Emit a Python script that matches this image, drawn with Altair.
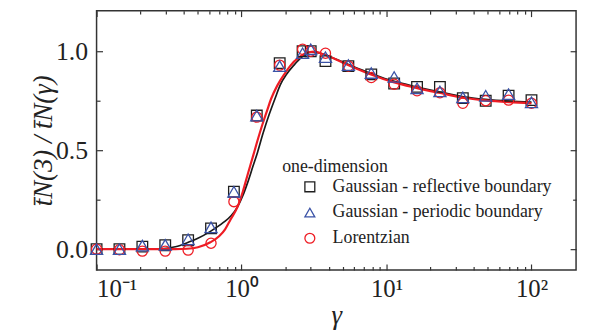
import altair as alt
import pandas as pd

# ---- data ----
gamma_pts = [0.1, 0.1438, 0.2069, 0.2976, 0.4281, 0.6158, 0.8859, 1.274, 1.833, 2.637, 3.0,
             3.793, 5.456, 7.848, 11.29, 16.24, 23.36, 33.60, 48.33, 69.52, 100.0]
reflective = [0.0, 0.0, 0.013, 0.02, 0.045, 0.105, 0.29, 0.675, 0.94, 1.0, 1.0,
              0.95, 0.925, 0.883, 0.837, 0.82, 0.82, 0.763, 0.75, 0.775, 0.753]
periodic = [0.0, 0.0, 0.018, 0.022, 0.05, 0.11, 0.29, 0.675, 0.925, 0.99, 1.01,
            0.97, 0.93, 0.89, 0.87, 0.813, 0.797, 0.767, 0.775, 0.783, 0.742]
lorentzian = [0.0, -0.003, -0.01, -0.01, -0.005, 0.03, 0.24, 0.667, 0.93, 1.01, 1.0,
              0.99, 0.925, 0.867, 0.833, 0.8, 0.79, 0.737, 0.75, 0.753, 0.737]

gamma_black = [0.1, 0.2, 0.28, 0.35, 0.43, 0.5, 0.61, 0.75, 0.85, 0.94, 1.02, 1.1, 1.2, 1.29,
               1.4, 1.55, 1.7, 1.85, 2.05, 2.3, 2.6, 3.0, 3.5, 4.0, 5.0, 6.0, 8.0, 11, 16, 23,
               34, 48, 70, 100]
fit_black = [0.0, 0.0, 0.002, 0.012, 0.035, 0.055, 0.09, 0.135, 0.17, 0.215, 0.27, 0.335, 0.42,
             0.49, 0.58, 0.68, 0.76, 0.83, 0.885, 0.93, 0.97, 0.995, 0.99, 0.975, 0.945, 0.92,
             0.885, 0.85, 0.82, 0.795, 0.77, 0.757, 0.748, 0.743]

gamma_red = [0.1, 0.35, 0.42, 0.5, 0.61, 0.7, 0.77, 0.84, 0.94, 1.02, 1.1, 1.2, 1.29, 1.4, 1.5,
             1.6, 1.76, 2.0, 2.16, 2.5, 2.9, 3.2, 3.5, 4.0, 5.0, 6.0, 8.0, 11, 16, 23, 34, 48,
             70, 100]
fit_red = [0.0, 0.0, 0.002, 0.01, 0.035, 0.065, 0.1, 0.15, 0.215, 0.29, 0.375, 0.47, 0.55,
           0.635, 0.7, 0.76, 0.825, 0.89, 0.925, 0.97, 0.995, 0.998, 0.99, 0.975, 0.942,
           0.917, 0.88, 0.845, 0.815, 0.79, 0.765, 0.752, 0.743, 0.737]

series_names = ["Gaussian - reflective boundary", "Gaussian - periodic boundary", "Lorentzian"]
series_colors = ["#1e1e1e", "#3a52a6", "#ee1c24"]
series_shapes = ["square", "triangle-up", "circle"]
series_sizes = [115, 150, 105]

x_major = [0.1, 1, 10, 100]
x_minor = [0.2, 0.3, 0.4, 0.5, 0.6, 0.7, 0.8, 0.9, 2, 3, 4, 5, 6, 7, 8, 9,
           20, 30, 40, 50, 60, 70, 80, 90]
y_major = [0.0, 0.5, 1.0]
y_minor = [0.25, 0.75]

# ---- styling ----
W, H = 484.5, 262
X_DOMAIN = [0.1, 203]
Y_DOMAIN = [-0.105, 1.205]
FONT = "Times New Roman, Liberation Serif, serif"
INK = "#222222"

series_dfs = [pd.DataFrame({"gamma": gamma_pts, "value": vals, "series": name})
              for vals, name in zip([reflective, periodic, lorentzian], series_names)]
black_df = pd.DataFrame({"gamma": gamma_black, "value": fit_black})
red_df = pd.DataFrame({"gamma": gamma_red, "value": fit_red})

xs = alt.Scale(type="log", domain=X_DOMAIN, nice=False)
ys = alt.Scale(domain=Y_DOMAIN, nice=False, zero=False)

common = dict(grid=False, domain=False, tickColor="#333333", tickWidth=1.2)

x_label_expr = ("datum.value < 0.5 ? '10⁻¹' : datum.value < 5 ? '10⁰' : "
                "datum.value < 50 ? '10¹' : '10²'")

ax_x_main = alt.Axis(orient="bottom", offset=-6, tickSize=6, values=x_major,
                     labelExpr=x_label_expr, labelFont=FONT, labelFontSize=25,
                     labelColor=INK, labelPadding=7, title="γ", titleFont=FONT,
                     titleFontSize=27, titleFontStyle="italic", titleFontWeight="normal",
                     titleColor=INK, titlePadding=1, **common)
ax_x_minor = alt.Axis(orient="bottom", offset=-3.5, tickSize=3.5, values=x_minor,
                      labels=False, title=None, **common)
ax_x_top = alt.Axis(orient="top", offset=-6, tickSize=6, values=x_major,
                    labels=False, title=None, **common)
ax_x_top_minor = alt.Axis(orient="top", offset=-3.5, tickSize=3.5, values=x_minor,
                          labels=False, title=None, **common)

ax_y_main = alt.Axis(orient="left", offset=-6, tickSize=6, values=y_major,
                     labelExpr="format(datum.value, '.1f')", labelFont=FONT,
                     labelFontSize=26, labelColor=INK, labelPadding=9,
                     title="t̄N(3) / t̄N(γ)", titleFont=FONT, titleFontSize=27,
                     titleFontStyle="italic", titleFontWeight="normal", titleColor=INK,
                     titlePadding=-2, **common)
ax_y_minor = alt.Axis(orient="left", offset=-3.5, tickSize=3.5, values=y_minor,
                      labels=False, title=None, **common)
ax_y_right = alt.Axis(orient="right", offset=-6, tickSize=6, values=y_major,
                      labels=False, title=None, **common)
ax_y_right_minor = alt.Axis(orient="right", offset=-3.5, tickSize=3.5, values=y_minor,
                            labels=False, title=None, **common)

black_line = alt.Chart(black_df).mark_line(color="#1a1a1a", strokeWidth=1.7,
                                           interpolate="monotone").encode(
    x=alt.X("gamma:Q", scale=xs, axis=ax_x_main),
    y=alt.Y("value:Q", scale=ys, axis=ax_y_main),
)
red_line = alt.Chart(red_df).mark_line(color="#ee1c24", strokeWidth=2.2,
                                       interpolate="monotone").encode(
    x=alt.X("gamma:Q", scale=xs, axis=ax_x_minor),
    y=alt.Y("value:Q", scale=ys, axis=ax_y_minor),
)

color_enc = alt.Color("series:N", title="one-dimension",
                      scale=alt.Scale(domain=series_names, range=series_colors))
shape_enc = alt.Shape("series:N", title="one-dimension",
                      scale=alt.Scale(domain=series_names, range=series_shapes))


def point_layer(i, x_axis, y_axis):
    return alt.Chart(series_dfs[i]).mark_point(
        filled=False, strokeWidth=1.3, opacity=1, size=series_sizes[i]
    ).encode(
        x=alt.X("gamma:Q", scale=xs, axis=x_axis),
        y=alt.Y("value:Q", scale=ys, axis=y_axis),
        color=color_enc,
        shape=shape_enc,
    )


squares = point_layer(0, ax_x_top, ax_y_right)
circles = point_layer(2, ax_x_top_minor, ax_y_right_minor)
triangles = point_layer(1, None, None)

chart = alt.layer(black_line, red_line, squares, circles, triangles).resolve_axis(
    x="independent", y="independent"
).properties(
    width=W, height=H, autosize=alt.AutoSizeParams(type="none"),
    padding={"left": 89.5, "top": 1, "right": 6, "bottom": 60},
).configure_view(
    stroke="#333333", strokeWidth=1.5
).configure_legend(
    orient="none", legendX=187.5, legendY=149, padding=0,
    titleFont=FONT, titleFontSize=18, titleFontWeight="normal", titleColor=INK,
    titlePadding=2, labelFont=FONT, labelFontSize=18, labelColor=INK, labelLimit=400,
    symbolOffset=19, labelOffset=14, rowPadding=8, symbolSize=100,
    symbolStrokeWidth=1.3, symbolFillColor="transparent",
)

chart.save("out.html", embed_options={"renderer": "svg", "actions": False})
